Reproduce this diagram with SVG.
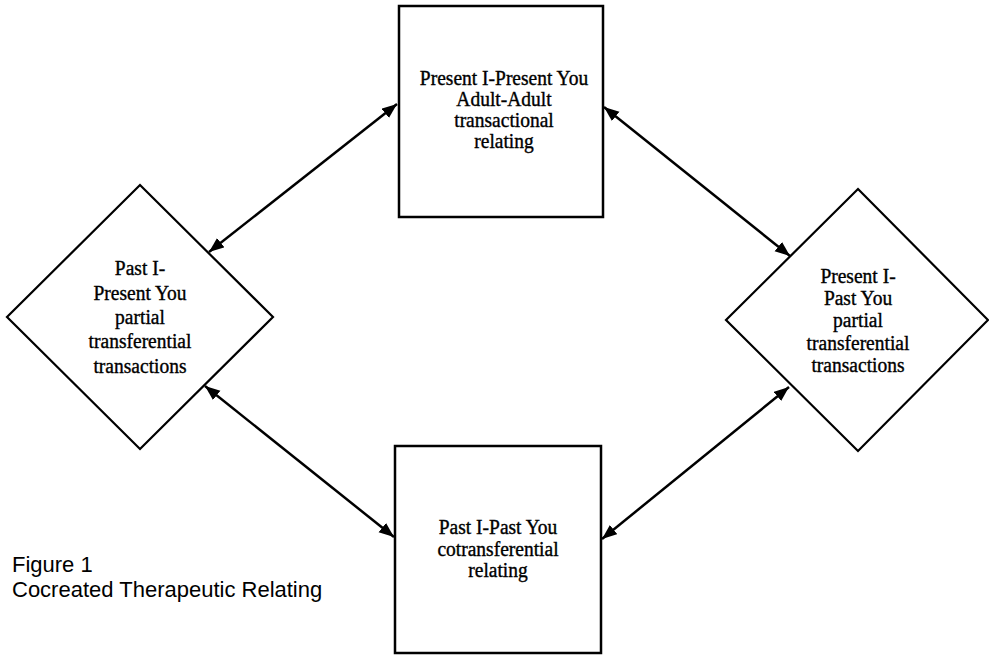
<svg xmlns="http://www.w3.org/2000/svg" width="989" height="655" viewBox="0 0 989 655">
<style>
.box{fill:#fff;stroke:#000;stroke-width:2.5}
.dia{fill:#fff;stroke:#000;stroke-width:2.2}
.t{font-family:"Liberation Serif","Times New Roman",serif;font-size:19.5px;fill:#000;stroke:#000;stroke-width:0.35;text-anchor:middle}
.cap{font-family:"Liberation Sans",Arial,sans-serif;font-size:22px;fill:#000}
.con{stroke:#000;stroke-width:2.5;fill:none;marker-start:url(#ah);marker-end:url(#ah)}
</style>
<defs>
<marker id="ah" markerUnits="userSpaceOnUse" markerWidth="16" markerHeight="13" refX="15" refY="6" orient="auto-start-reverse" viewBox="0 0 16 13">
<path d="M0,0 L15,6 L0,12 z" fill="#000"/>
</marker>
</defs>
<rect width="989" height="655" fill="#fff"/>
<g id="connectors">
<line class="con" x1="397" y1="104" x2="209" y2="252"/>
<line class="con" x1="205" y1="386" x2="394" y2="537"/>
<line class="con" x1="604" y1="107" x2="790" y2="256"/>
<line class="con" x1="789" y1="387" x2="602" y2="539"/>
</g>
<g id="node-top">
<rect class="box" x="399" y="6" width="204" height="211"/>
<text class="t" transform="translate(504,85) scale(1,1.1)">Present I-Present You</text>
<text class="t" transform="translate(504,106) scale(1,1.1)">Adult-Adult</text>
<text class="t" transform="translate(504,127) scale(1,1.1)">transactional</text>
<text class="t" transform="translate(504,148) scale(1,1.1)">relating</text>
</g>
<g id="node-left">
<polygon class="dia" points="140,185 273,317 140,449 7,317"/>
<text class="t" transform="translate(140,275) scale(1,1.05)">Past I-</text>
<text class="t" transform="translate(140,300) scale(1,1.05)">Present You</text>
<text class="t" transform="translate(140,324) scale(1,1.05)">partial</text>
<text class="t" transform="translate(140,348) scale(1,1.05)">transferential</text>
<text class="t" transform="translate(140,373) scale(1,1.05)">transactions</text>
</g>
<g id="node-right">
<polygon class="dia" points="858,189 988,320 858,451 726,320"/>
<text class="t" transform="translate(858,283) scale(1,1.05)">Present I-</text>
<text class="t" transform="translate(858,305) scale(1,1.05)">Past You</text>
<text class="t" transform="translate(858,327) scale(1,1.05)">partial</text>
<text class="t" transform="translate(858,350) scale(1,1.05)">transferential</text>
<text class="t" transform="translate(858,372) scale(1,1.05)">transactions</text>
</g>
<g id="node-bottom">
<rect class="box" x="395" y="446" width="206" height="207"/>
<text class="t" transform="translate(498,534) scale(1,1.08)">Past I-Past You</text>
<text class="t" transform="translate(498,556) scale(1,1.08)">cotransferential</text>
<text class="t" transform="translate(498,577) scale(1,1.08)">relating</text>
</g>
<g id="caption">
<text class="cap" x="12" y="572">Figure 1</text>
<text class="cap" x="12" y="597">Cocreated Therapeutic Relating</text>
</g>
</svg>
